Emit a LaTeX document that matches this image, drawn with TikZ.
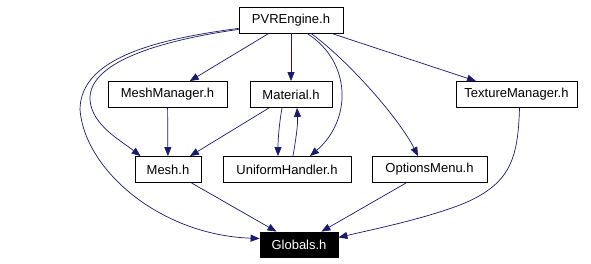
\documentclass[tikz,border=0pt]{standalone}
\usepackage{fontspec}
\setmainfont{Liberation Sans}
\usetikzlibrary{arrows.meta}
\definecolor{edgeblue}{HTML}{191970}

\begin{document}
\begin{tikzpicture}[x=1pt,y=-1pt,
  file/.style={draw=black,line width=0.8pt,inner sep=0pt,minimum height=26pt,
    font=\fontsize{13}{15}\selectfont},
  dep/.style={draw=edgeblue,line width=0.7pt,
    -{Triangle[length=9pt,width=7pt]}}]
\useasboundingbox (0,0) rectangle (591,264);
\node[file,minimum width=104pt] (pvr) at (291,20) {PVREngine.h};
\node[file,minimum width=119pt] (meshmgr) at (167.5,94.5) {MeshManager.h};
\node[file,minimum width=82pt] (material) at (291,94.5) {Material.h};
\node[file,minimum width=121pt] (texmgr) at (516.5,94.5) {TextureManager.h};
\node[file,minimum width=66pt] (mesh) at (168,169.5) {Mesh.h};
\node[file,minimum width=128pt] (uniform) at (287,169.5) {UniformHandler.h};
\node[file,minimum width=115pt] (options) at (429.5,169.5) {OptionsMenu.h};
\node[file,fill=black,text=white,minimum width=78pt,minimum height=25pt] (globals) at (299,244.5) {Globals.h}; % the root
% straight edges
\draw[dep] (pvr) -- (meshmgr);
\draw[dep] (pvr) -- (material);
\draw[dep] (pvr) -- (texmgr);
\draw[dep] (meshmgr) -- (mesh);
\draw[dep] (material) -- (mesh);
\draw[dep] (mesh) -- (globals);
\draw[dep] (options) -- (globals);
% curved edges
\draw[dep] ([yshift=4pt]pvr.south west) .. controls (150,42) and (88,65) .. (90,100)
  .. controls (92,125) and (120,140) .. ([xshift=6pt]mesh.north west);
\draw[dep] ([yshift=5pt]pvr.south west) .. controls (150,40) and (80,60) .. (80,110)
  .. controls (85,170) and (160,235) .. ([yshift=6pt]globals.west);
\draw[dep] ([xshift=16pt]pvr.south) .. controls (352,62) and (352,120) .. ([xshift=23pt]uniform.north);
\draw[dep] ([xshift=20pt]pvr.south) .. controls (350,62) and (400,120) .. ([xshift=-11.5pt]options.north);
\draw[dep] ([xshift=-9pt]material.south) .. controls (279,125) and (278,140) .. ([xshift=-9pt]uniform.north);
\draw[dep] ([xshift=6pt]uniform.north) .. controls (296,138) and (298,125) .. ([xshift=6pt]material.south);
\draw[dep] ([xshift=3pt]texmgr.south) .. controls (518,160) and (510,185) .. (460,205)
  .. controls (420,220) and (370,230) .. ([yshift=7pt]globals.east);
\end{tikzpicture}
\end{document}
